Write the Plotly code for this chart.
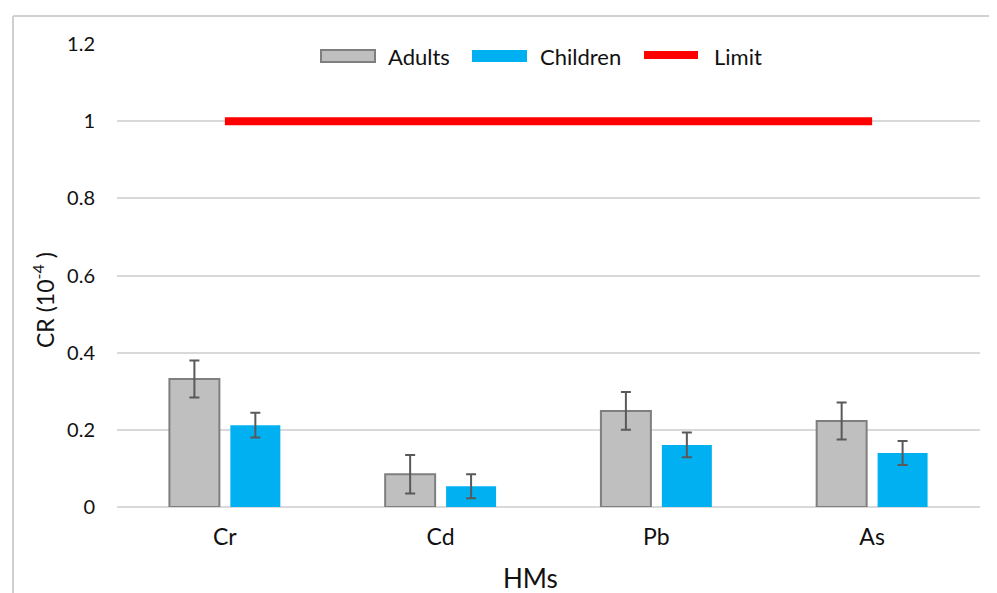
import plotly.graph_objects as go

categories = ["Cr", "Cd", "Pb", "As"]
adults = [0.332, 0.085, 0.249, 0.223]
adults_err = [0.048, 0.050, 0.049, 0.048]
children = [0.212, 0.054, 0.161, 0.140]
children_err = [0.032, 0.031, 0.032, 0.031]
limit = [1, 1, 1, 1]
y_ticks = [0, 0.2, 0.4, 0.6, 0.8, 1.0, 1.2]
y_ticktext = ["0", "0.2", "0.4", "0.6", "0.8", "1", "1.2"]

FONT = "Lato"
TXT = "#111111"
GRAY_FILL = "#BFBFBF"
GRAY_EDGE = "#7F7F7F"
BLUE = "#00B0F0"
RED = "#FF0000"

# page body has an 8px margin; work in reference-pixel coordinates
OFF = 8
W, H = 997 - OFF, 593 - OFF
PL, PR, PT, PB = 117, 980, 44, 507          # plot box in reference pixels
L, T = PL - OFF, PT - OFF
R, B = W - (PR - OFF), H - (PB - OFF)
pw, ph = PR - PL, PB - PT


def px(xr):
    return (xr - PL) / pw


def py(yr):
    return (PB - yr) / ph


fig = go.Figure()
fig.add_trace(go.Bar(
    name="Adults", x=categories, y=adults, showlegend=False,
    marker=dict(color=GRAY_FILL, line=dict(color=GRAY_EDGE, width=2)),
    error_y=dict(type="data", array=adults_err, color="#595959", thickness=2, width=5),
))
fig.add_trace(go.Bar(
    name="Children", x=categories, y=children, showlegend=False,
    marker=dict(color=BLUE, line=dict(color=BLUE, width=0)),
    error_y=dict(type="data", array=children_err, color="#595959", thickness=2, width=5),
))
fig.add_trace(go.Scatter(
    name="Limit", x=categories, y=limit, mode="lines", showlegend=False,
    line=dict(color=RED, width=8),
))

shapes = [
    # outer chart frame (left & top)
    dict(type="line", xref="paper", yref="paper", layer="below",
         x0=px(13), x1=px(13), y0=py(16), y1=py(600),
         line=dict(color="#D0D0D0", width=2)),
    dict(type="line", xref="paper", yref="paper", layer="below",
         x0=px(13), x1=px(1000), y0=py(16), y1=py(16),
         line=dict(color="#D0D0D0", width=2)),
    # legend swatches
    dict(type="rect", xref="paper", yref="paper",
         x0=px(321), x1=px(375), y0=py(62), y1=py(50),
         fillcolor=GRAY_FILL, line=dict(color=GRAY_EDGE, width=2)),
    dict(type="rect", xref="paper", yref="paper",
         x0=px(472), x1=px(527), y0=py(62), y1=py(50),
         fillcolor=BLUE, line=dict(width=0)),
    dict(type="line", xref="paper", yref="paper",
         x0=px(644), x1=px(698), y0=py(55), y1=py(55),
         line=dict(color=RED, width=8)),
]

annotations = [
    dict(text="Adults", xref="paper", yref="paper", x=px(386), y=py(56),
         xanchor="left", yanchor="middle", showarrow=False,
         font=dict(size=22, family=FONT, color=TXT)),
    dict(text="Children", xref="paper", yref="paper", x=px(538), y=py(56),
         xanchor="left", yanchor="middle", showarrow=False,
         font=dict(size=22, family=FONT, color=TXT)),
    dict(text="Limit", xref="paper", yref="paper", x=px(712), y=py(56),
         xanchor="left", yanchor="middle", showarrow=False,
         font=dict(size=22, family=FONT, color=TXT)),
    dict(text="CR (10<sup>-4</sup> )", xref="paper", yref="paper", x=px(43), y=py(300),
         xanchor="center", yanchor="middle", textangle=-90, showarrow=False,
         font=dict(size=23, family=FONT, color=TXT)),
    dict(text="HMs", xref="paper", yref="paper", x=px(530), y=py(578),
         xanchor="center", yanchor="middle", showarrow=False,
         font=dict(size=26, family=FONT, color=TXT)),
]

fig.update_layout(
    width=W, height=H,
    margin=dict(l=L, r=R, t=T, b=B, autoexpand=False),
    paper_bgcolor="white", plot_bgcolor="white",
    font=dict(family=FONT, color=TXT),
    barmode="group", bargap=0.435, bargroupgap=0.18,
    showlegend=False,
    xaxis=dict(
        showgrid=False, showline=False, zeroline=False,
        tickfont=dict(size=23, family=FONT, color=TXT),
        ticks="outside", ticklen=9, tickcolor="rgba(0,0,0,0)",
        automargin=False,
    ),
    yaxis=dict(
        range=[0, 1.2], tickvals=y_ticks, ticktext=y_ticktext,
        showgrid=True, gridcolor="#D9D9D9", gridwidth=1.5,
        zeroline=True, zerolinecolor="#D9D9D9", zerolinewidth=1.5,
        showline=False,
        tickfont=dict(size=20, family=FONT, color=TXT),
        ticks="outside", ticklen=17, tickcolor="rgba(0,0,0,0)",
        automargin=False,
    ),
    shapes=shapes,
    annotations=annotations,
)

fig.write_html("out.html")
